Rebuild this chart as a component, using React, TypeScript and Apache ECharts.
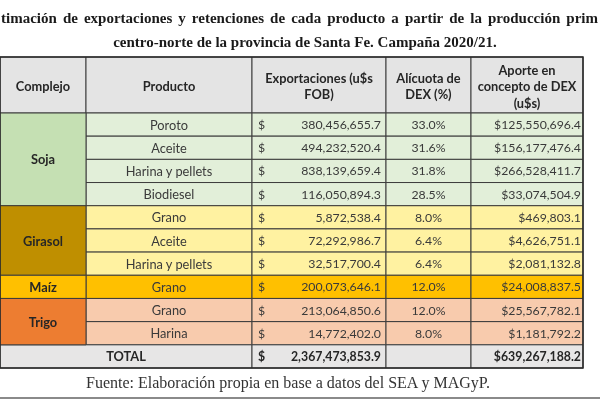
import React, { useEffect, useRef } from "react";
import * as echarts from "echarts";

// ---------- data ----------
const titleLine1 = "timación de exportaciones y retenciones de cada producto a partir de la producción prim";
const titleLine2 = "centro-norte de la provincia de Santa Fe. Campaña 2020/21.";
const sourceNote = "Fuente: Elaboración propia en base a datos del SEA y MAGyP.";
const headers = [
  "Complejo",
  "Producto",
  "Exportaciones (u$s\nFOB)",
  "Alícuota de\nDEX (%)",
  "Aporte en\nconcepto de DEX\n(u$s)",
];
const complejos = ["Soja", "Girasol", "Maíz", "Trigo"];
const complejoSpans = [4, 3, 1, 2];
const productos = [
  "Poroto",
  "Aceite",
  "Harina y pellets",
  "Biodiesel",
  "Grano",
  "Aceite",
  "Harina y pellets",
  "Grano",
  "Grano",
  "Harina",
];
const exportaciones = [
  380456655.7, 494232520.4, 838139659.4, 116050894.3, 5872538.4, 72292986.7,
  32517700.4, 200073646.1, 213064850.6, 14772402.0,
];
const alicuotas = [33.0, 31.6, 31.8, 28.5, 8.0, 6.4, 6.4, 12.0, 12.0, 8.0];
const aportes = [
  125550696.4, 156177476.4, 266528411.7, 33074504.9, 469803.1, 4626751.1,
  2081132.8, 24008837.5, 25567782.1, 1181792.2,
];
const totalLabel = "TOTAL";
const totalExportaciones = 2367473853.9;
const totalAportes = 639267188.2;

// ---------- styles / layout ----------
const complejoFill = ["#c5e0b3", "#bf8f00", "#ffc000", "#ed7d31"];
const rowFill = ["#e2efd9", "#fff2a1", "#ffc000", "#f8cbad"];
const HEADER_FILL = "#e4e4e4";
const TOTAL_FILL = "#e7e6e6";
const LINE = "#3c3c3c";
const TEXT = "#3a3a3a";
const DARK = "#262626";
const BODY_FONT = "Lato";
const FS_LABEL = 12.8;
const FS_NUM = 12.3;
const FS_HEAD = 12.8;

const EDGES = [0, 86, 252, 386, 471, 583];
const GRID_LEFT = 0;
const HEADER_TOP = 57;
const HEADER_H = 56;
const BODY_H = 255;

const TITLE_FONT = "bold 15px 'Liberation Serif'";
const TITLE_LEFT = 1;
const TITLE_RIGHT = 598;

const fmt = (v: number) =>
  v.toLocaleString("en-US", { minimumFractionDigits: 1, maximumFractionDigits: 1 });

const groupOf: number[] = [];
complejoSpans.forEach((n, g) => {
  for (let k = 0; k < n; k++) groupOf.push(g);
});
const complejoStart: number[] = [];
complejoSpans.reduce((acc, n) => {
  complejoStart.push(acc);
  return acc + n;
}, 0);

const rowLabels = [...productos, totalLabel];

const txt = (
  text: string,
  x: number,
  y: number,
  align: string,
  opts: any = {}
) => ({
  type: "text",
  style: {
    text,
    x,
    y,
    align,
    textAlign: align,
    verticalAlign: "middle",
    textVerticalAlign: "middle",
    fontFamily: BODY_FONT,
    fontSize: opts.size || FS_LABEL,
    fontWeight: opts.bold ? "bold" : "normal",
    fill: opts.fill || TEXT,
    lineHeight: opts.lineHeight,
  },
});

// justified first title line (words spread across the full width)
function justifiedLine(text: string, y: number) {
  const words = text.split(" ");
  const ctx = document.createElement("canvas").getContext("2d")!;
  ctx.font = TITLE_FONT;
  const widths = words.map((w) => ctx.measureText(w).width);
  const total = widths.reduce((a, b) => a + b, 0);
  const gap = (TITLE_RIGHT - TITLE_LEFT - total) / (words.length - 1);
  let x = TITLE_LEFT;
  return words.map((w, k) => {
    const el = {
      type: "text",
      style: {
        text: w,
        x,
        y,
        align: "left",
        textAlign: "left",
        verticalAlign: "middle",
        textVerticalAlign: "middle",
        font: TITLE_FONT,
        fill: "#1a1a1a",
      },
    };
    x += widths[k] + gap;
    return el;
  });
}

export default function App() {
  const ref = useRef<HTMLDivElement>(null);
  useEffect(() => {
    if (!ref.current) return;
    const chart = echarts.init(ref.current, undefined, { renderer: "svg" });

    const rowRender = (params: any, api: any) => {
      const i = api.value(1);
      const yc = api.coord([0, i])[1];
      const h = api.size([0, 1])[1];
      const y0 = yc - h / 2;
      const X = (k: number) => api.coord([EDGES[k], i])[0];
      const isTotal = i === productos.length;
      const fill = isTotal ? TOTAL_FILL : rowFill[groupOf[i]];
      const cell = (a: number, b: number) => ({
        type: "rect",
        shape: { x: X(a), y: y0, width: X(b) - X(a), height: h },
        style: { fill, stroke: LINE, lineWidth: 1 },
      });
      const children: any[] = [];
      if (isTotal) {
        children.push(cell(0, 2));
        children.push(txt(totalLabel, (X(0) + X(2)) / 2, yc, "center", { bold: true, fill: DARK }));
      } else {
        children.push(cell(1, 2));
        children.push(txt(productos[i], (X(1) + X(2)) / 2, yc, "center"));
      }
      children.push(cell(2, 3), cell(3, 4), cell(4, 5));
      const bold = isTotal;
      const f = isTotal ? DARK : TEXT;
      children.push(txt("$", X(2) + 6, yc, "left", { bold, fill: f, size: FS_NUM }));
      children.push(
        txt(fmt(isTotal ? totalExportaciones : exportaciones[i]), X(3) - 5, yc, "right", {
          bold,
          fill: f,
          size: FS_NUM,
        })
      );
      if (!isTotal) {
        children.push(
          txt(alicuotas[i].toFixed(1) + "%", (X(3) + X(4)) / 2, yc, "center", { size: FS_NUM })
        );
      }
      children.push(
        txt("$" + fmt(isTotal ? totalAportes : aportes[i]), X(5) - 2, yc, "right", {
          bold,
          fill: f,
          size: FS_NUM,
        })
      );
      return { type: "group", children };
    };

    const complejoRender = (params: any, api: any) => {
      const s = api.value(1);
      const e = api.value(2);
      const g = api.value(3);
      const h = api.size([0, 1])[1];
      const top = api.coord([0, s])[1] - h / 2;
      const bottom = api.coord([0, e - 1])[1] + h / 2;
      const x0 = api.coord([EDGES[0], s])[0];
      const x1 = api.coord([EDGES[1], s])[0];
      return {
        type: "group",
        children: [
          {
            type: "rect",
            shape: { x: x0, y: top, width: x1 - x0, height: bottom - top },
            style: { fill: complejoFill[g], stroke: LINE, lineWidth: 1 },
          },
          txt(complejos[g], (x0 + x1) / 2, (top + bottom) / 2, "center", { bold: true, fill: DARK }),
        ],
      };
    };

    const headerGraphics: any[] = [];
    headers.forEach((hd, k) => {
      headerGraphics.push({
        type: "rect",
        shape: {
          x: GRID_LEFT + EDGES[k],
          y: HEADER_TOP,
          width: EDGES[k + 1] - EDGES[k],
          height: HEADER_H,
        },
        style: { fill: HEADER_FILL, stroke: LINE, lineWidth: 1 },
      });
      headerGraphics.push(
        txt(hd, GRID_LEFT + (EDGES[k] + EDGES[k + 1]) / 2, HEADER_TOP + HEADER_H / 2 + 1, "center", {
          bold: true,
          fill: DARK,
          lineHeight: 16.5,
          size: FS_HEAD,
        })
      );
    });

    chart.setOption({
      animation: false,
      grid: { left: GRID_LEFT, top: HEADER_TOP + HEADER_H, width: EDGES[5], height: BODY_H },
      xAxis: { type: "value", min: 0, max: EDGES[5], show: false },
      yAxis: { type: "category", data: rowLabels, inverse: true, show: false },
      series: [
        {
          type: "custom",
          renderItem: rowRender,
          data: rowLabels.map((_, i) => [0, i]),
          encode: { x: 0, y: 1 },
          silent: true,
        },
        {
          type: "custom",
          renderItem: complejoRender,
          data: complejos.map((_, g) => [0, complejoStart[g], complejoStart[g] + complejoSpans[g], g]),
          encode: { x: 0, y: 1 },
          silent: true,
        },
      ],
      graphic: [
        ...headerGraphics,
        {
          type: "rect",
          shape: { x: GRID_LEFT, y: HEADER_TOP, width: EDGES[5], height: HEADER_H + BODY_H },
          style: { fill: "none", stroke: "#2a2a2a", lineWidth: 1.5 },
          z: 100,
        },
        ...justifiedLine(titleLine1, 18),
        {
          type: "text",
          style: {
            text: titleLine2,
            x: 305,
            y: 42,
            align: "center",
            textAlign: "center",
            verticalAlign: "middle",
            textVerticalAlign: "middle",
            font: TITLE_FONT,
            fill: "#1a1a1a",
          },
        },
        {
          type: "text",
          style: {
            text: sourceNote,
            x: 288,
            y: 382,
            align: "center",
            textAlign: "center",
            verticalAlign: "middle",
            textVerticalAlign: "middle",
            fontFamily: "Liberation Serif",
            fontSize: 16,
            fill: "#333333",
          },
        },
        {
          type: "line",
          shape: { x1: 0, y1: 398, x2: 600, y2: 398 },
          style: { stroke: "#8a8a8a", lineWidth: 2 },
        },
      ],
    });
    return () => chart.dispose();
  }, []);
  return <div ref={ref} style={{ width: 600, height: 400, position: "fixed", left: 0, top: 0 }} />;
}
